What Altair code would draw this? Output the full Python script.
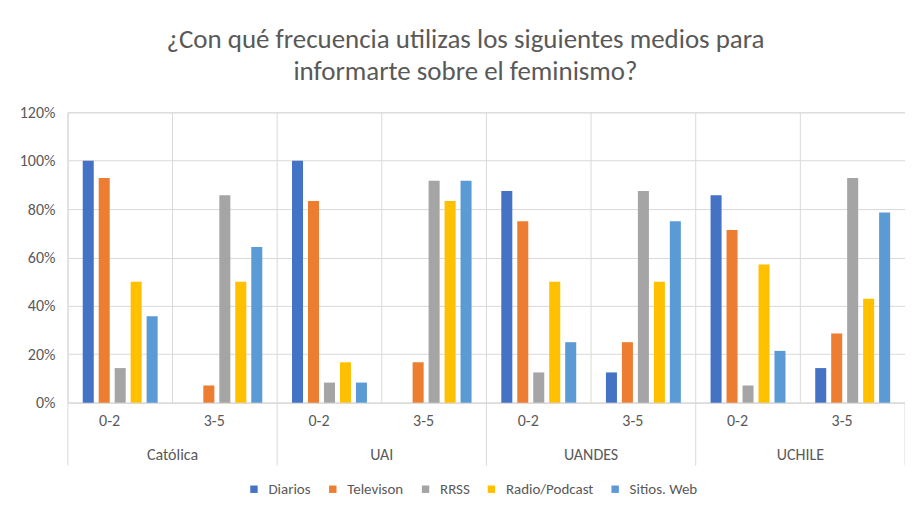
import altair as alt
import pandas as pd

universidades = ["Católica", "UAI", "UANDES", "UCHILE"]
rangos = ["0-2", "3-5"]
series = ["Diarios", "Televison", "RRSS", "Radio/Podcast", "Sitios. Web"]
colores = ["#4472C4", "#ED7D31", "#A5A5A5", "#FFC000", "#5B9BD5"]

# values per series, in order Católica 0-2, 3-5, UAI 0-2, 3-5, UANDES 0-2, 3-5, UCHILE 0-2, 3-5
diarios = [1.000, 0.000, 1.000, 0.000, 0.875, 0.125, 0.857, 0.143]
television = [0.929, 0.071, 0.833, 0.167, 0.750, 0.250, 0.714, 0.286]
rrss = [0.143, 0.857, 0.083, 0.917, 0.125, 0.875, 0.071, 0.929]
radio = [0.500, 0.500, 0.167, 0.833, 0.500, 0.500, 0.571, 0.429]
web = [0.357, 0.643, 0.083, 0.917, 0.250, 0.750, 0.214, 0.786]

titulo = ["¿Con qué frecuencia utilizas los siguientes medios para",
          "informarte sobre el feminismo?"]

valores = [diarios, television, rrss, radio, web]
keys = [f"{u}|{r}" for u in universidades for r in rangos]

rows = []
for s, vals in zip(series, valores):
    for k, v in zip(keys, vals):
        rows.append({"key": k, "serie": s, "valor": v})
df = pd.DataFrame(rows)

FONT = "Carlito, Calibri, Lato, sans-serif"
GRAY = "#595959"
LINE = "#d9d9d9"
W, H = 839, 291

xscale = alt.Scale(domain=keys, paddingInner=0, paddingOuter=0)

bars = alt.Chart(df).mark_bar().encode(
    x=alt.X("key:N", scale=xscale, sort=keys, title=None,
            axis=alt.Axis(labelExpr="split(datum.label, '|')[1]", labelAngle=0,
                          ticks=False, grid=False, domainColor=LINE, labelPadding=18,
                          labelFontSize=16, labelColor=GRAY, labelFont=FONT)),
    xOffset=alt.XOffset("serie:N", sort=series,
                        scale=alt.Scale(paddingInner=0.31, paddingOuter=0.93)),
    y=alt.Y("valor:Q", scale=alt.Scale(domain=[0, 1.2]), title=None,
            axis=alt.Axis(values=[0, 0.2, 0.4, 0.6, 0.8, 1.0, 1.2], format=".0%",
                          ticks=False, domain=False, gridColor=LINE, labelPadding=13,
                          labelFontSize=16, labelColor=GRAY, labelFont=FONT)),
    color=alt.Color("serie:N", sort=series,
                    scale=alt.Scale(domain=series, range=colores),
                    legend=alt.Legend(title=None, orient="none", direction="horizontal",
                                      legendX=179, legendY=370, symbolType="square",
                                      symbolSize=55, symbolStrokeWidth=0,
                                      labelFontSize=15, labelColor=GRAY, labelFont=FONT,
                                      labelOffset=7, columnPadding=14, symbolOffset=0)),
)

df_keys = pd.DataFrame({"key": keys})
vgrid = alt.Chart(df_keys).mark_rule(color=LINE, strokeWidth=1).encode(
    x=alt.X("key:N", scale=xscale, sort=keys, bandPosition=0),
    y=alt.value(0), y2=alt.value(H),
)

df_groups = pd.DataFrame({"first": [f"{u}|0-2" for u in universidades],
                          "second": [f"{u}|3-5" for u in universidades],
                          "grupo": universidades})
sep = alt.Chart(df_groups).mark_rule(color=LINE, strokeWidth=1).encode(
    x=alt.X("first:N", scale=xscale, sort=keys, bandPosition=0),
    y=alt.value(H), y2=alt.value(H + 63),
)
sep_end = alt.Chart(pd.DataFrame({"last": [keys[-1]]})).mark_rule(color=LINE, strokeWidth=1).encode(
    x=alt.X("last:N", scale=xscale, sort=keys, bandPosition=1),
    y=alt.value(H), y2=alt.value(H + 63),
)
grp_text = alt.Chart(df_groups).mark_text(fontSize=16, color=GRAY, font=FONT,
                                          baseline="middle").encode(
    x=alt.X("second:N", scale=xscale, sort=keys, bandPosition=0),
    y=alt.value(H + 52),
    text="grupo:N",
)

chart = alt.layer(vgrid, bars, sep, sep_end, grp_text).properties(
    width=W, height=H,
    autosize=alt.AutoSizeParams(type="none"),
    padding={"left": 60, "top": 104, "right": 0, "bottom": 100},
    title=alt.TitleParams(text=titulo, fontSize=27, color=GRAY, font=FONT,
                          fontWeight="normal", anchor="middle", dx=-21,
                          offset=18, lineHeight=32),
).configure_view(stroke=LINE, fill="#eeeeee").configure(background="white")

chart.save("out.html", embed_options={"renderer": "svg", "actions": False})
